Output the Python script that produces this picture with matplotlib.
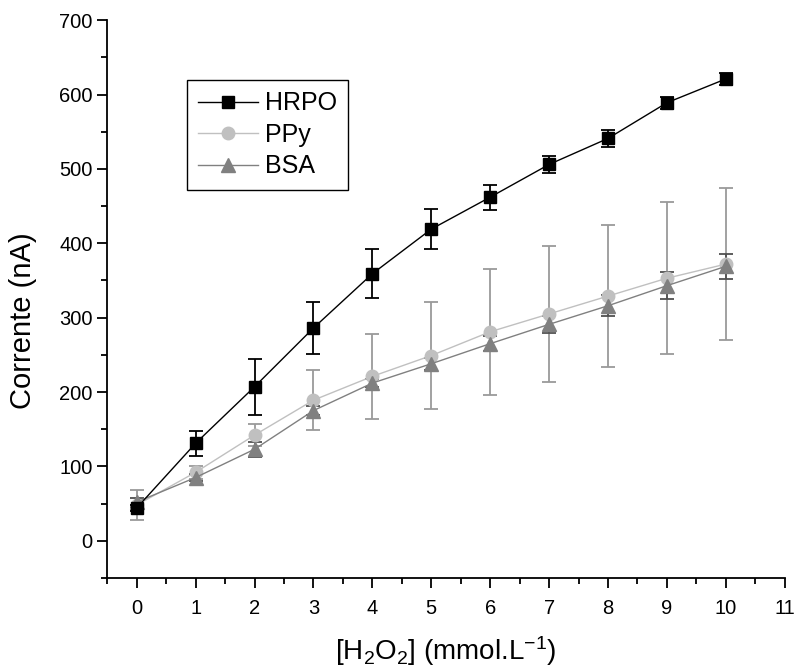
import numpy as np
import matplotlib
matplotlib.use('Agg')
import matplotlib.pyplot as plt
from matplotlib.ticker import MultipleLocator

plt.rcParams['font.family'] = ['Liberation Sans', 'DejaVu Sans']
plt.rcParams['mathtext.default'] = 'regular'

# dados
conc = [0, 1, 2, 3, 4, 5, 6, 7, 8, 9, 10]
hrpo = [44, 131, 207, 286, 359, 419, 462, 506, 541, 589, 621]
hrpo_err = [4, 17, 38, 35, 33, 27, 17, 11, 11, 8, 8]
ppy = [48, 92, 142, 189, 221, 249, 281, 305, 329, 353, 372]
ppy_err = [20, 9, 15, 40, 57, 72, 85, 91, 96, 102, 102]
bsa = [52, 85, 123, 175, 212, 238, 265, 291, 316, 343, 369]
bsa_err = [6, 5, 10, 6, 5, 8, 10, 11, 14, 18, 17]

fig = plt.figure(figsize=(8, 6.72), dpi=100)
ax = fig.add_axes([0.134, 0.14, 0.847, 0.83])

ax.errorbar(conc, hrpo, yerr=hrpo_err, color='black', marker='s', markersize=8.5,
            lw=1, elinewidth=1.3, capsize=5, capthick=1.3, label='HRPO', zorder=3)
ax.errorbar(conc, ppy, yerr=ppy_err, color='#c0c0c0', marker='o', markersize=9,
            lw=1, ecolor='#9a9a9a', elinewidth=1.3, capsize=5, capthick=1.3,
            label='PPy', zorder=2)
ax.errorbar(conc, bsa, yerr=bsa_err, color='#808080', marker='^', markersize=9.5,
            lw=1, ecolor='#505050', elinewidth=1.3, capsize=5, capthick=1.3,
            label='BSA', zorder=2)

ax.set_xlim(-0.5, 11)
ax.set_ylim(-50, 700)
ax.xaxis.set_major_locator(MultipleLocator(1))
ax.xaxis.set_minor_locator(MultipleLocator(0.5))
ax.yaxis.set_major_locator(MultipleLocator(100))
ax.yaxis.set_minor_locator(MultipleLocator(50))
ax.tick_params(which='both', direction='out', width=1.3, labelsize=14.5)
ax.tick_params(which='major', length=7)
ax.tick_params(which='minor', length=4)
ax.tick_params(axis='x', pad=8)
ax.spines['top'].set_visible(False)
ax.spines['right'].set_visible(False)
ax.spines['left'].set_linewidth(1.3)
ax.spines['bottom'].set_linewidth(1.3)

ax.set_ylabel('Corrente (nA)', fontsize=21)
ax.yaxis.set_label_coords(-0.103, 0.462)
ax.set_xlabel(r'[H$_2$O$_2$] (mmol.L$^{-1}$)', fontsize=20, labelpad=12)

# legenda sem barras de erro
handles, labels = ax.get_legend_handles_labels()
handles = [h[0] for h in handles]
leg = ax.legend(handles, labels, loc='upper left', bbox_to_anchor=(0.118, 0.8925),
                fontsize=18, fancybox=False, edgecolor='black', framealpha=1,
                handlelength=2.4, borderpad=0.45, labelspacing=0.3,
                handletextpad=0.25, borderaxespad=0)
leg.get_frame().set_linewidth(1)

plt.savefig('out.png', dpi=100)
